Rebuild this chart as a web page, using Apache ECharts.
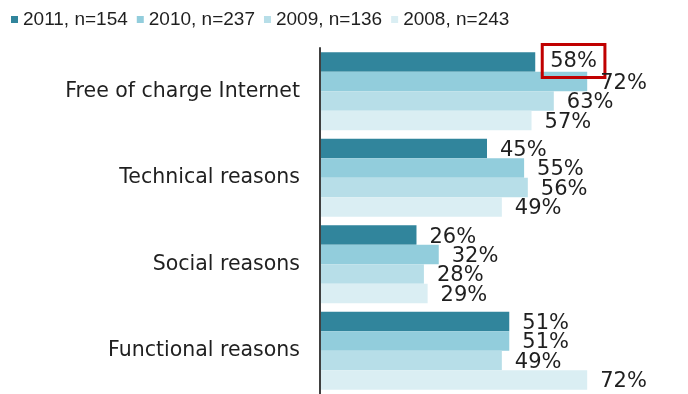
<!DOCTYPE html>
<html>
<head>
<meta charset="utf-8">
<script src="https://cdn.jsdelivr.net/npm/echarts@6/dist/echarts.min.js"></script>
<style>
  html, body { margin: 0; padding: 0; background: #fff; }
  #chart { width: 688px; height: 394px; }
</style>
</head>
<body>
<div id="chart"></div>
<script>
// Reasons, one group of bars per reason
const categories = ['Free of charge Internet', 'Technical reasons', 'Social reasons', 'Functional reasons'];
const seriesNames = ['2011, n=154', '2010, n=237', '2009, n=136', '2008, n=243'];
const values2011 = [58, 45, 26, 51];
const values2010 = [72, 55, 32, 51];
const values2009 = [63, 56, 28, 49];
const values2008 = [57, 49, 29, 72];
const colors = ['#31859C', '#92CDDC', '#B7DEE8', '#DAEEF3'];

const textColor = '#1f1f1f';
const fontFamily = 'DejaVu Sans, Verdana, sans-serif';

function makeSeries(name, values, color, highlightFirst) {
  return {
    name: name,
    type: 'bar',
    barGap: '0%',
    barCategoryGap: '10%',
    itemStyle: { color: color },
    label: {
      show: true,
      position: 'right',
      distance: 13,
      offset: [0, 2],
      formatter: '{c}%',
      color: textColor,
      fontFamily: fontFamily,
      fontSize: 21
    },
    data: values.map(function (v, i) {
      if (highlightFirst && i === 0) {
        return {
          value: v,
          label: {
            borderColor: '#C00000',
            borderWidth: 3,
            padding: [6, 8, 6, 8],
            distance: 7,
            offset: [0, -1]
          }
        };
      }
      return v;
    }),
    emphasis: { disabled: true }
  };
}

const chart = echarts.init(document.getElementById('chart'), null, { renderer: 'canvas' });
chart.setOption({
  animation: false,
  color: colors,
  legend: {
    left: 6,
    top: 5,
    icon: 'rect',
    itemWidth: 7,
    itemHeight: 7,
    itemGap: 9,
    textStyle: { color: textColor, fontFamily: 'Liberation Sans, Arial, sans-serif', fontSize: 19 },
    data: seriesNames
  },
  grid: { left: 320, right: 34, top: 48, bottom: -1, containLabel: false },
  xAxis: {
    type: 'value',
    min: 0,
    max: 90,
    show: false
  },
  yAxis: {
    type: 'category',
    inverse: true,
    z: 5,
    data: categories,
    axisLine: { show: true, lineStyle: { color: '#404040', width: 2 } },
    axisTick: { show: false },
    axisLabel: { color: textColor, fontFamily: fontFamily, fontSize: 20.5, margin: 20 }
  },
  series: [
    makeSeries(seriesNames[0], values2011, colors[0], true),
    makeSeries(seriesNames[1], values2010, colors[1], false),
    makeSeries(seriesNames[2], values2009, colors[2], false),
    makeSeries(seriesNames[3], values2008, colors[3], false)
  ]
});
</script>
</body>
</html>
